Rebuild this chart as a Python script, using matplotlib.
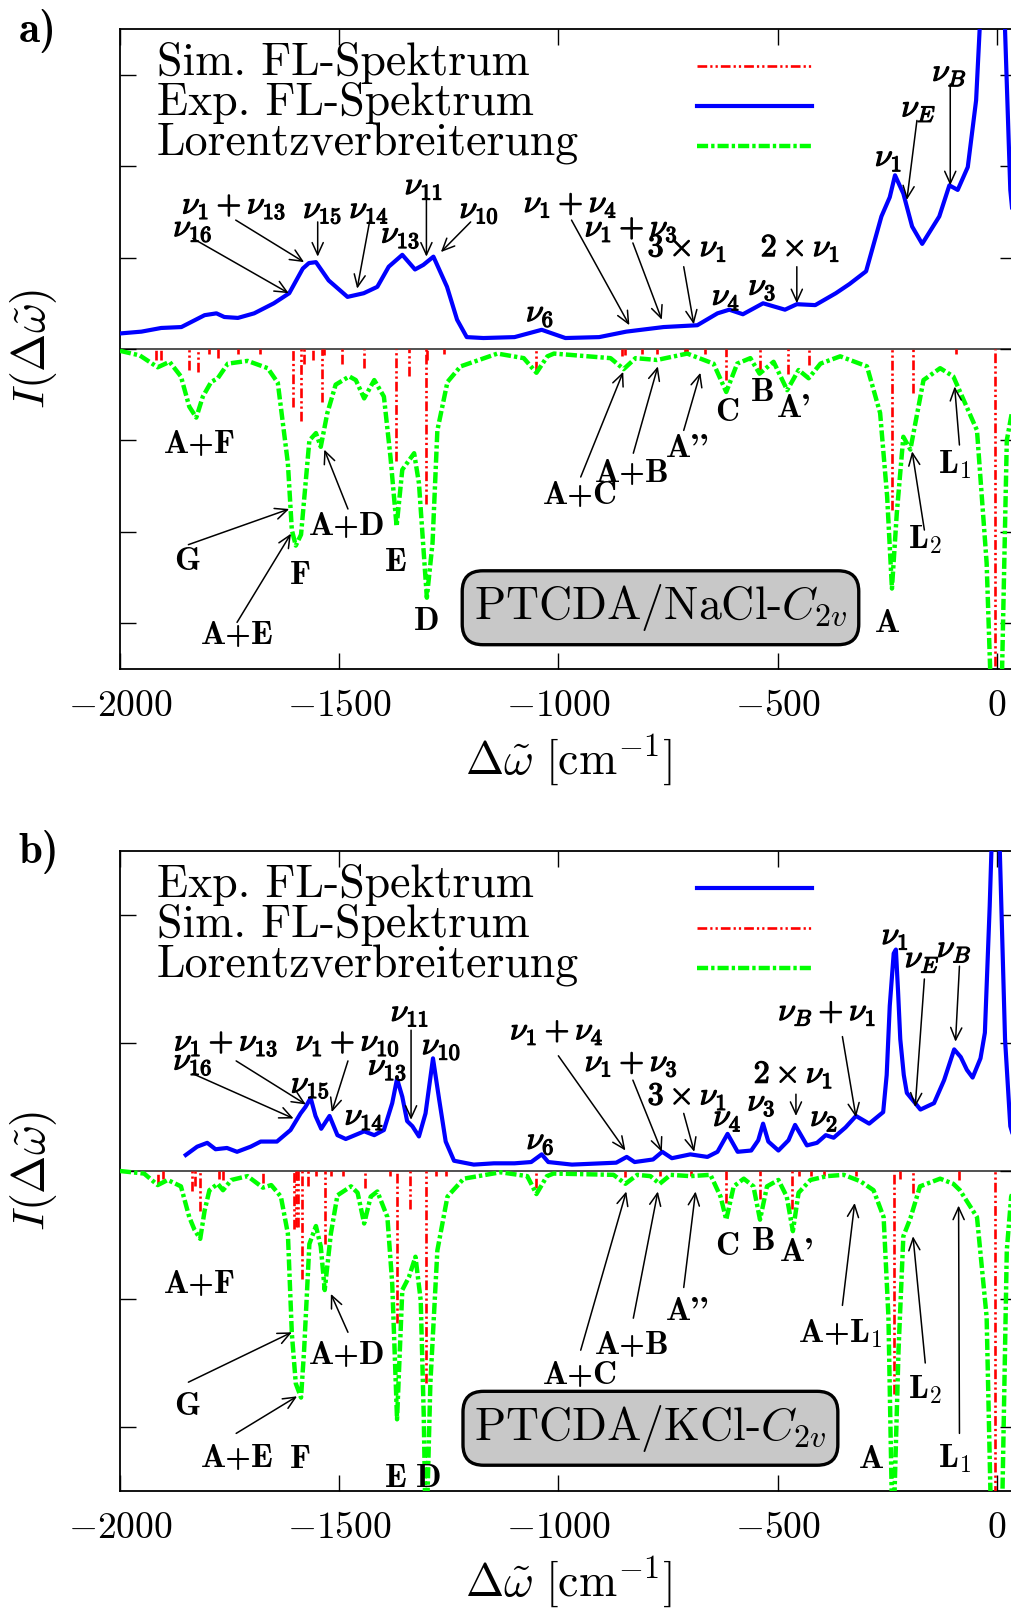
import matplotlib
matplotlib.use('Agg')
import matplotlib.pyplot as plt
import matplotlib.patheffects as pe

plt.rcParams['mathtext.fontset'] = 'cm'
plt.rcParams['font.family'] = ['cmr10', 'DejaVu Serif']
plt.rcParams['axes.formatter.use_mathtext'] = True
plt.rcParams['lines.scale_dashes'] = False

# ---------------- data ----------------
xticks = [-2000, -1500, -1000, -500, 0]
xtick_labels = ['$-2000$', '$-1500$', '$-1000$', '$-500$', '$0$']

# Panel a (PTCDA/NaCl)
a_exp_x = [-2000, -1951, -1906, -1860, -1807, -1780, -1762, -1731, -1694, -1649, -1614, -1583, -1569,
           -1553, -1524, -1481, -1444, -1413, -1387, -1356, -1327, -1308, -1285, -1254, -1231, -1209,
           -1171, -1100, -1038, -984, -907, -845, -760, -683, -637, -610, -579, -533, -483, -456, -414,
           -367, -336, -298, -263, -244, -232, -213, -193, -170, -131, -108, -89, -66, -47, -39, -25,
           -5, 10, 19, 31, 44]
a_exp_y = [0.17, 0.19, 0.23, 0.24, 0.37, 0.39, 0.35, 0.34, 0.39, 0.50, 0.61, 0.88, 0.94,
           0.95, 0.75, 0.57, 0.61, 0.68, 0.90, 1.03, 0.87, 0.92, 1.01, 0.68, 0.32, 0.13,
           0.12, 0.13, 0.21, 0.12, 0.13, 0.19, 0.24, 0.26, 0.39, 0.43, 0.38, 0.50, 0.43, 0.49, 0.48,
           0.61, 0.71, 0.85, 1.45, 1.66, 1.90, 1.70, 1.34, 1.15, 1.45, 1.79, 1.74, 1.99, 2.72, 3.49, 6.0,
           12.0, 6.0, 3.49, 1.74, 1.10]

a_lor_x = [-2000, -1955, -1914, -1887, -1861, -1842, -1826, -1811, -1792, -1777, -1754, -1709, -1663,
           -1640, -1617, -1608, -1599, -1587, -1568, -1553, -1542, -1527, -1508, -1477, -1462, -1443,
           -1420, -1398, -1383, -1369, -1356, -1329, -1318, -1300, -1287, -1276, -1253, -1223, -1139,
           -1079, -1050, -1025, -1010, -881, -851, -824, -775, -706, -646, -617, -592, -562, -541,
           -509, -478, -452, -429, -402, -357, -296, -266, -250, -239, -228, -213, -197, -167, -129,
           -99, -45, -23, -8, 0, 8, 23, 44]
a_lor_y = [-0.02, -0.07, -0.20, -0.14, -0.30, -0.63, -0.75, -0.52, -0.36, -0.32, -0.16, -0.13, -0.21,
           -0.37, -1.25, -1.98, -2.15, -2.03, -1.00, -0.92, -1.07, -0.70, -0.39, -0.30, -0.34, -0.54,
           -0.34, -0.52, -1.18, -1.94, -1.32, -1.14, -1.47, -2.72, -2.12, -0.89, -0.36, -0.19, -0.05,
           -0.10, -0.26, -0.08, -0.05, -0.10, -0.22, -0.10, -0.12, -0.05, -0.16, -0.47, -0.16, -0.10, -0.27,
           -0.14, -0.45, -0.23, -0.32, -0.16, -0.08, -0.19, -0.70, -1.61, -2.62, -1.80, -0.96, -1.10, -0.34,
           -0.21, -0.30, -0.89, -2.34, -4.5, -12.0, -4.5, -1.00, -0.45]

a_sim_x = [-1918, -1906, -1842, -1823, -1797, -1776, -1731, -1680, -1605, -1587, -1580, -1559, -1540,
           -1534, -1493, -1443, -1371, -1341, -1303, -1299, -1261, -1050, -855, -849, -809, -776, -712,
           -706, -666, -617, -541, -475, -429, -239, -192, -93, -4]
a_sim_y = [-0.12, -0.12, -0.23, -0.25, -0.05, -0.10, -0.05, -0.05, -0.63, -0.79, -0.16, -0.12, -0.58,
           -0.07, -0.16, -0.21, -1.23, -0.30, -1.69, -0.12, -0.05, -0.24, -0.08, -0.07, -0.05, -0.05, -0.06,
           -0.06, -0.06, -0.34, -0.23, -0.27, -0.17, -1.76, -0.48, -0.05, -5.0]

# Panel b (PTCDA/KCl)
b_exp_x = [-1850, -1824, -1801, -1782, -1756, -1733, -1702, -1679, -1642, -1611, -1588, -1577, -1565,
           -1554, -1541, -1522, -1504, -1485, -1443, -1420, -1398, -1379, -1368, -1356, -1345, -1333,
           -1318, -1303, -1286, -1272, -1257, -1238, -1193, -1147, -1100, -1062, -1038, -1023, -969,
           -868, -844, -826, -784, -763, -741, -699, -660, -637, -614, -591, -560, -544, -533, -521,
           -498, -475, -460, -433, -410, -390, -372, -345, -321, -291, -259, -251, -244, -235, -230,
           -225, -220, -212, -205, -174, -143, -120, -97, -82, -68, -55, -37, -27, -16, -12, -3, 7,
           19, 31, 44]
b_exp_y = [0.125, 0.19, 0.22, 0.17, 0.18, 0.15, 0.19, 0.23, 0.23, 0.32, 0.45, 0.50, 0.57,
           0.43, 0.33, 0.43, 0.28, 0.25, 0.31, 0.28, 0.32, 0.53, 0.72, 0.58, 0.39, 0.35,
           0.27, 0.45, 0.88, 0.56, 0.23, 0.08, 0.05, 0.06, 0.06, 0.07, 0.13, 0.07, 0.05,
           0.065, 0.11, 0.07, 0.09, 0.15, 0.10, 0.13, 0.11, 0.15, 0.29, 0.15, 0.16, 0.24, 0.37, 0.23,
           0.16, 0.24, 0.36, 0.20, 0.22, 0.28, 0.26, 0.34, 0.43, 0.37, 0.46, 0.75, 1.29, 1.70, 1.73,
           1.40, 1.03, 0.75, 0.61, 0.48, 0.53, 0.71, 0.95, 0.89, 0.79, 0.73, 0.88, 1.08, 2.07, 2.51, 8.0, 2.51,
           1.03, 0.35, 0.20]

b_lor_x = [-2000, -1945, -1914, -1891, -1861, -1842, -1830, -1817, -1807, -1796, -1777, -1765, -1746,
           -1709, -1674, -1655, -1633, -1617, -1608, -1599, -1587, -1580, -1568, -1553, -1542, -1533,
           -1519, -1504, -1473, -1458, -1443, -1428, -1413, -1390, -1379, -1368, -1356, -1341, -1326,
           -1314, -1307, -1302, -1292, -1276, -1253, -1216, -1132, -1071, -1050, -1026, -1011, -874,
           -847, -820, -790, -769, -744, -699, -653, -630, -617, -600, -577, -555, -540, -524, -498,
           -479, -465, -452, -425, -387, -349, -311, -281, -258, -247, -237, -224, -213, -197, -175,
           -129, -99, -84, -45, -23, -8, 0, 8, 23, 33, 44]
b_lor_y = [0.0, -0.02, -0.11, -0.07, -0.12, -0.36, -0.46, -0.53, -0.31, -0.15, -0.10, -0.15, -0.07,
           -0.04, -0.13, -0.11, -0.20, -0.49, -1.27, -1.66, -1.77, -1.40, -0.57, -0.43, -0.59, -0.93,
           -0.49, -0.19, -0.12, -0.17, -0.41, -0.20, -0.16, -0.36, -0.88, -1.94, -0.93, -0.83, -0.67,
           -1.01, -1.92, -3.0, -1.66, -0.62, -0.20, -0.06, -0.01, -0.04, -0.18, -0.04, -0.02, -0.03,
           -0.10, -0.03, -0.04, -0.10, -0.03, -0.04, -0.03, -0.20, -0.38, -0.12, -0.06, -0.12, -0.38,
           -0.12, -0.07, -0.20, -0.47, -0.17, -0.07, -0.04, -0.03, -0.08, -0.15, -0.36, -1.14, -3.0,
           -1.40, -0.51, -0.37, -0.12, -0.06, -0.10, -0.15, -0.36, -1.14, -3.5, -12.0, -3.5, -0.62, -0.20,
           -0.10]

b_sim_x = [-1914, -1903, -1836, -1830, -1817, -1774, -1765, -1673, -1604, -1599, -1593, -1585, -1572,
           -1553, -1533, -1519, -1491, -1442, -1384, -1368, -1339, -1303, -1280, -1257, -1050, -847,
           -769, -697, -617, -539, -467, -452, -424, -393, -320, -235, -220, -191, -87, -4]
b_sim_y = [-0.10, -0.06, -0.16, -0.12, -0.31, -0.06, -0.07, -0.09, -0.45, -0.44, -0.44, -0.84, -0.12,
           -0.04, -0.57, -0.04, -0.04, -0.13, -0.04, -1.19, -0.30, -1.66, -0.04, -0.04, -0.13, -0.05,
           -0.04, -0.04, -0.25, -0.22, -0.30, -0.04, -0.04, -0.04, -0.04, -1.74, -0.06, -0.17, -0.07, -5.0]

# labels: (text, x, y, arrow start, arrow end)
a_nu_labels = [
    (r'$\nu_1+\nu_{13}$', -1740, 1.55, (-1736, 1.41), (-1580, 0.95)),
    (r'$\nu_{16}$', -1834, 1.30, (-1834, 1.21), (-1615, 0.61)),
    (r'$\nu_{15}$', -1538, 1.50, (-1549, 1.39), (-1549, 1.01)),
    (r'$\nu_{14}$', -1432, 1.50, (-1430, 1.41), (-1459, 0.66)),
    (r'$\nu_{11}$', -1307, 1.76, (-1301, 1.65), (-1301, 1.01)),
    (r'$\nu_{13}$', -1360, 1.23, None, None),
    (r'$\nu_{10}$', -1181, 1.50, (-1200, 1.39), (-1268, 1.06)),
    (r'$\nu_1+\nu_4$', -973, 1.57, (-970, 1.41), (-838, 0.26)),
    (r'$\nu_1+\nu_3$', -834, 1.30, (-830, 1.16), (-764, 0.32)),
    (r'$\mathbf{3}\times\nu_1$', -706, 1.10, (-714, 0.90), (-691, 0.27)),
    (r'$\mathbf{2}\times\nu_1$', -448, 1.10, (-456, 0.90), (-456, 0.50)),
    (r'$\nu_6$', -1042, 0.37, None, None),
    (r'$\nu_4$', -618, 0.55, None, None),
    (r'$\nu_3$', -535, 0.66, None, None),
    (r'$\nu_1$', -247, 2.07, None, None),
    (r'$\nu_E$', -178, 2.61, (-182, 2.50), (-205, 1.63)),
    (r'$\nu_B$', -108, 3.00, (-106, 2.90), (-106, 1.79)),
]
a_mode_labels = [
    ('A+F', -1819, -1.04, None, None),
    ('G', -1847, -2.32, (-1844, -2.14), (-1614, -1.75)),
    ('F', -1588, -2.48, None, None),
    ('A+E', -1732, -3.13, (-1733, -2.99), (-1610, -2.02)),
    ('A+D', -1481, -1.94, (-1480, -1.75), (-1534, -1.10)),
    ('E', -1371, -2.34, None, None),
    ('D', -1300, -2.98, None, None),
    ('A+C', -949, -1.60, (-949, -1.40), (-852, -0.25)),
    ('A+B', -832, -1.36, (-829, -1.14), (-773, -0.19)),
    ("A''", -706, -1.09, (-714, -0.89), (-676, -0.26)),
    ('C', -614, -0.69, None, None),
    ('B', -533, -0.48, None, None),
    ("A'", -463, -0.65, None, None),
    ('A', -249, -3.00, None, None),
    (r'L$_\mathbf{2}$', -163, -2.09, (-165, -1.98), (-193, -1.12)),
    (r'L$_\mathbf{1}$', -95, -1.27, (-85, -1.05), (-96, -0.41)),
]
b_nu_labels = [
    (r'$\nu_1+\nu_{13}$', -1758, 0.99, (-1735, 0.86), (-1576, 0.52)),
    (r'$\nu_{16}$', -1834, 0.84, (-1834, 0.76), (-1604, 0.41)),
    (r'$\nu_1+\nu_{10}$', -1481, 0.99, (-1480, 0.86), (-1517, 0.46)),
    (r'$\nu_{15}$', -1566, 0.66, None, None),
    (r'$\nu_{14}$', -1443, 0.41, None, None),
    (r'$\nu_{11}$', -1339, 1.22, (-1336, 1.10), (-1336, 0.40)),
    (r'$\nu_{13}$', -1390, 0.80, None, None),
    (r'$\nu_{10}$', -1267, 0.96, None, None),
    (r'$\nu_6$', -1041, 0.22, None, None),
    (r'$\nu_1+\nu_4$', -1004, 1.08, (-1000, 0.90), (-847, 0.16)),
    (r'$\nu_1+\nu_3$', -834, 0.83, (-830, 0.71), (-764, 0.15)),
    (r'$\mathbf{3}\times\nu_1$', -706, 0.58, (-714, 0.45), (-690, 0.15)),
    (r'$\mathbf{2}\times\nu_1$', -464, 0.75, (-458, 0.60), (-458, 0.43)),
    (r'$\nu_4$', -615, 0.40, None, None),
    (r'$\nu_3$', -537, 0.52, None, None),
    (r'$\nu_2$', -394, 0.40, None, None),
    (r'$\nu_B+\nu_1$', -387, 1.23, (-352, 1.05), (-321, 0.42)),
    (r'$\nu_1$', -232, 1.82, None, None),
    (r'$\nu_E$', -170, 1.64, (-165, 1.50), (-186, 0.50)),
    (r'$\nu_B$', -97, 1.72, (-85, 1.60), (-94, 1.01)),
]
b_mode_labels = [
    ('A+F', -1819, -0.89, None, None),
    ('G', -1847, -1.84, (-1844, -1.65), (-1608, -1.26)),
    ('A+E', -1732, -2.25, (-1735, -2.05), (-1596, -1.76)),
    ('F', -1588, -2.25, None, None),
    ('A+D', -1481, -1.44, (-1480, -1.26), (-1519, -0.96)),
    ('E', -1371, -2.40, None, None),
    ('D', -1295, -2.40, None, None),
    ('A+C', -949, -1.60, (-949, -1.40), (-845, -0.16)),
    ('A+B', -832, -1.36, (-829, -1.15), (-773, -0.16)),
    ("A''", -706, -1.10, (-714, -0.91), (-687, -0.16)),
    ('C', -614, -0.59, None, None),
    ('B', -532, -0.55, None, None),
    ("A'", -456, -0.64, None, None),
    (r'A+L$_\mathbf{1}$', -357, -1.27, (-352, -1.05), (-324, -0.25)),
    ('A', -285, -2.25, None, None),
    (r'L$_\mathbf{2}$', -163, -1.71, (-163, -1.50), (-191, -0.51)),
    (r'L$_\mathbf{1}$', -95, -2.25, (-85, -2.05), (-87, -0.27)),
]

# ---------------- styles ----------------
BLUE = '#0000ff'
GREEN = '#00ff00'
RED = '#ff0000'
red_dash = (0, (7, 2.2, 1.6, 2.2, 1.6, 2.2))
green_dash = (0, (8, 2.2, 2.4, 2.2))

W, H = 1011, 1611
fig = plt.figure(figsize=(W / 100, H / 100), dpi=100)


def rect(top, bottom, left=120, right=1016):
    return [left / W, 1 - bottom / H, (right - left) / W, (bottom - top) / H]


def arrow(ax, start, end):
    ax.annotate('', xy=end, xytext=start,
                arrowprops=dict(arrowstyle='->,head_length=0.55,head_width=0.25',
                                lw=1.1, color='black', shrinkA=0, shrinkB=0,
                                mutation_scale=16), zorder=6)


def panel(ax, ylim, exp, lor, sim, legend_order, nu_labels, mode_labels, box_text, box_xy):
    ax.set_xlim(-2000, 44)
    ax.set_ylim(-ylim, ylim)
    ax.set_xticks(xticks)
    ax.set_xticklabels(xtick_labels)
    n = int(ylim)
    ax.set_yticks(list(range(-n, n + 1)))
    ax.set_yticklabels([])
    ax.tick_params(direction='in', top=True, right=True, length=11.5, width=1.0,
                   labelsize=27, pad=15)
    for s in ax.spines.values():
        s.set_linewidth(1.3)
    ax.axhline(0, color='#222222', lw=1.1, zorder=1)

    ax.plot(exp[0], exp[1], color=BLUE, lw=3.0, solid_joinstyle='round', zorder=3)
    ax.vlines(sim[0], sim[1], 0, colors=RED, linestyles=[red_dash], lw=1.9, zorder=4)
    ax.plot(lor[0], lor[1], color=GREEN, lw=3.2, linestyle=green_dash, zorder=5)

    # legend (text left, sample line right)
    styles = {'exp': dict(color=BLUE, lw=3.0, ls='-'),
              'sim': dict(color=RED, lw=1.9, ls=red_dash),
              'lor': dict(color=GREEN, lw=3.2, ls=green_dash)}
    names = {'exp': 'Exp. FL-Spektrum', 'sim': 'Sim. FL-Spektrum', 'lor': 'Lorentzverbreiterung'}
    for i, key in enumerate(legend_order):
        yb = 0.928 - i * 0.0625
        ax.text(0.041, yb, names[key], transform=ax.transAxes, fontsize=33,
                family='cmr10', va='baseline', ha='left')
        st = styles[key]
        ax.plot([0.644, 0.772], [yb + 0.014, yb + 0.014], transform=ax.transAxes,
                color=st['color'], lw=st['lw'], linestyle=st['ls'])

    stroke = [pe.withStroke(linewidth=0.9, foreground='black')]
    for txt, x, y, s, e in nu_labels:
        t = ax.text(x, y, txt, ha='center', va='center', fontsize=23, zorder=7)
        t.set_path_effects(stroke)
        if s is not None:
            arrow(ax, s, e)
    for txt, x, y, s, e in mode_labels:
        ax.text(x, y, txt, ha='center', va='center', fontsize=24, family='cmb10', zorder=7)
        if s is not None:
            arrow(ax, s, e)

    ax.text(box_xy[0], box_xy[1], box_text, ha='center', va='center', fontsize=33,
            family='cmr10', zorder=8,
            bbox=dict(boxstyle='round,pad=0.25,rounding_size=0.45', fc='#c8c8c8',
                      ec='black', lw=2.4))

    ax.set_xlabel(r'$\Delta\tilde{\omega}\ [\mathrm{cm}^{-1}]$', fontsize=33)
    ax.xaxis.label.set_va('center')
    ax.xaxis.set_label_coords(0.5, -0.143)
    ax.set_ylabel(r'$I(\Delta\tilde{\omega})$', fontsize=33)
    ax.yaxis.label.set_va('center')
    ax.yaxis.set_label_coords(-0.096, 0.5)


axa = fig.add_axes(rect(29, 669))
panel(axa, 3.5, (a_exp_x, a_exp_y), (a_lor_x, a_lor_y), (a_sim_x, a_sim_y),
      ['sim', 'exp', 'lor'], a_nu_labels, a_mode_labels,
      r'PTCDA/NaCl-$C_{2v}$', (-767, -2.83))

axb = fig.add_axes(rect(851, 1491))
panel(axb, 2.5, (b_exp_x, b_exp_y), (b_lor_x, b_lor_y), (b_sim_x, b_sim_y),
      ['exp', 'sim', 'lor'], b_nu_labels, b_mode_labels,
      r'PTCDA/KCl-$C_{2v}$', (-790, -2.01))

fig.text(38 / W, 1 - 31 / H, 'a)', family='cmb10', fontsize=31, ha='center', va='center')
fig.text(39 / W, 1 - 852 / H, 'b)', family='cmb10', fontsize=31, ha='center', va='center')

fig.savefig('out.png', dpi=100)
